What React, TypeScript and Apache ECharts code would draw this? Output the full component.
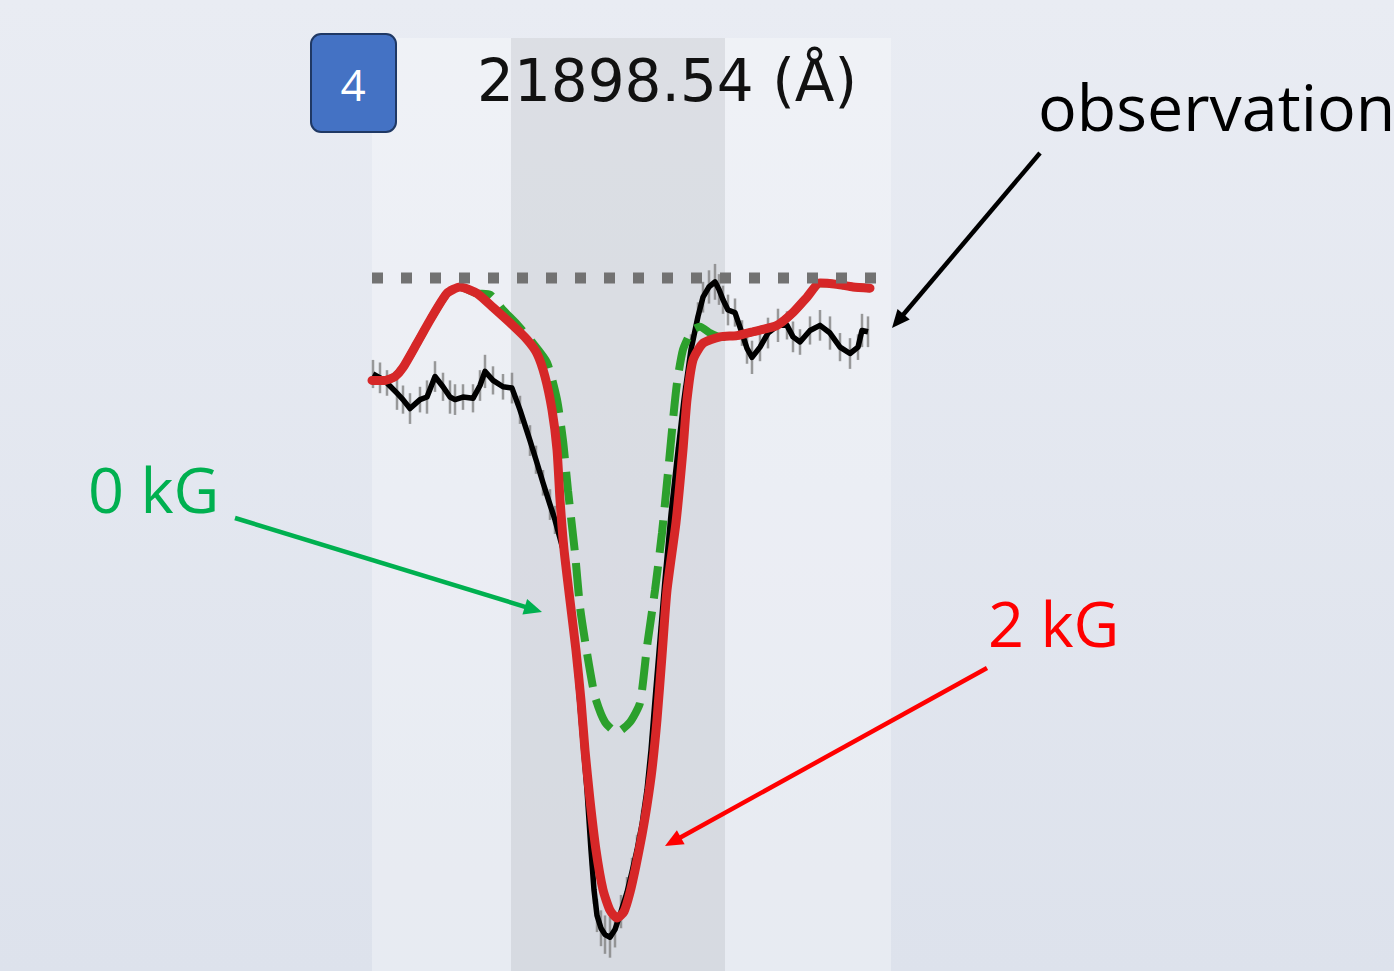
import React, { useEffect, useRef } from "react";
import * as echarts from "echarts";

// Line label and spectral window
const lineLabel = "21898.54 (Å)";
const panelIndex = "4";
const windowMin = 21896.0;
const windowMax = 21901.19;
const coreStart = 21897.39;
const coreEnd = 21899.53;
const continuumLevel = 1.0;
const continuumRange = [21896.0, 21901.1];

// Observed spectrum (normalised flux) with 1-sigma uncertainties
const obsWavelength = [
  21896.01, 21896.08, 21896.15, 21896.25, 21896.31, 21896.38, 21896.48, 21896.55, 21896.63, 21896.71,
  21896.78, 21896.83, 21896.91, 21897.01, 21897.08, 21897.13, 21897.21, 21897.31, 21897.4, 21897.48,
  21897.58, 21897.64, 21897.71, 21897.78, 21897.83, 21897.91, 21897.99, 21898.05, 21898.1, 21898.15,
  21898.19, 21898.22, 21898.25, 21898.29, 21898.33, 21898.38, 21898.43, 21898.49, 21898.55, 21898.6,
  21898.65, 21898.7, 21898.75, 21898.79, 21898.83, 21898.88, 21898.93, 21898.99, 21899.05, 21899.12,
  21899.19, 21899.26, 21899.31, 21899.37, 21899.43, 21899.47, 21899.51, 21899.56, 21899.63, 21899.7,
  21899.75, 21899.8, 21899.88, 21899.96, 21900.06, 21900.15, 21900.21, 21900.28, 21900.38, 21900.48,
  21900.58, 21900.68, 21900.78, 21900.86, 21900.9, 21900.96,
];
const obsFlux = [
  0.925, 0.922, 0.918, 0.91, 0.905, 0.898, 0.905, 0.907, 0.923, 0.915,
  0.907, 0.905, 0.907, 0.906, 0.916, 0.927, 0.92, 0.915, 0.914, 0.897,
  0.873, 0.858, 0.84, 0.823, 0.811, 0.788, 0.741, 0.694, 0.647, 0.6,
  0.553, 0.522, 0.502, 0.492, 0.487, 0.485, 0.491, 0.505, 0.52, 0.536,
  0.553, 0.573, 0.6, 0.631, 0.67, 0.717, 0.764, 0.815, 0.858, 0.905,
  0.944, 0.97, 0.985, 0.993, 0.997, 0.991, 0.983, 0.975, 0.973, 0.957,
  0.945, 0.938, 0.946, 0.957, 0.963, 0.963, 0.954, 0.95, 0.959, 0.963,
  0.957, 0.946, 0.941, 0.946, 0.959, 0.958,
];
const obsSigma = [
  0.011, 0.012, 0.01, 0.013, 0.011, 0.012, 0.01, 0.013, 0.012, 0.011,
  0.013, 0.012, 0.01, 0.011, 0.012, 0.013, 0.011, 0.01, 0.012, 0.011,
  0.012, 0.011, 0.01, 0.012, 0.011, 0.012, 0.011, 0.01, 0.012, 0.013,
  0.012, 0.011, 0.013, 0.014, 0.015, 0.016, 0.014, 0.013, 0.012, 0.011,
  0.012, 0.011, 0.01, 0.011, 0.01, 0.011, 0.01, 0.011, 0.01, 0.011,
  0.012, 0.011, 0.012, 0.013, 0.014, 0.012, 0.011, 0.012, 0.011, 0.01,
  0.012, 0.013, 0.011, 0.012, 0.013, 0.011, 0.012, 0.01, 0.011, 0.012,
  0.013, 0.011, 0.012, 0.01, 0.013, 0.012,
];

// Synthetic spectrum, 2 kG field
const model2kGWavelength = [
  21896.0, 21896.13, 21896.23, 21896.31, 21896.45, 21896.58, 21896.75, 21896.88, 21897.05, 21897.21,
  21897.38, 21897.55, 21897.65, 21897.73, 21897.8, 21897.85, 21897.88, 21897.92, 21897.98, 21898.04,
  21898.09, 21898.13, 21898.18, 21898.24, 21898.31, 21898.38, 21898.45, 21898.52, 21898.58, 21898.64,
  21898.7, 21898.75, 21898.8, 21898.85, 21898.9, 21898.95, 21899.04, 21899.11, 21899.15, 21899.21,
  21899.31, 21899.48, 21899.65, 21899.81, 21900.05, 21900.21, 21900.35, 21900.48, 21900.65, 21900.81,
  21900.98,
];
const model2kGFlux = [
  0.92, 0.92, 0.923, 0.93, 0.949, 0.967, 0.988, 0.993, 0.988, 0.977,
  0.965, 0.952, 0.941, 0.923, 0.897, 0.866, 0.827, 0.788, 0.748, 0.709,
  0.67, 0.631, 0.592, 0.553, 0.522, 0.506, 0.5, 0.505, 0.52, 0.541,
  0.565, 0.588, 0.616, 0.655, 0.705, 0.756, 0.809, 0.866, 0.905, 0.936,
  0.949, 0.954, 0.955, 0.958, 0.963, 0.973, 0.985, 0.996, 0.995, 0.993,
  0.992,
];

// Synthetic spectrum, no field
const model0kGWavelength = [
  21896.0, 21896.13, 21896.23, 21896.31, 21896.45, 21896.58, 21896.75, 21896.88, 21897.05, 21897.18,
  21897.31, 21897.46, 21897.61, 21897.75, 21897.85, 21897.91, 21897.96, 21898.03, 21898.08, 21898.15,
  21898.23, 21898.33, 21898.45, 21898.58, 21898.68, 21898.75, 21898.83, 21898.9, 21898.96, 21899.01,
  21899.05, 21899.11, 21899.2, 21899.28, 21899.38, 21899.48, 21899.65, 21899.81, 21900.05, 21900.21,
  21900.35, 21900.48, 21900.65, 21900.81, 21900.98,
];
const model0kGFlux = [
  0.92, 0.92, 0.923, 0.93, 0.949, 0.967, 0.988, 0.993, 0.988, 0.987,
  0.975, 0.963, 0.949, 0.934, 0.905, 0.873, 0.834, 0.785, 0.743, 0.707,
  0.673, 0.653, 0.645, 0.653, 0.668, 0.712, 0.756, 0.801, 0.848, 0.889,
  0.918, 0.944, 0.959, 0.962, 0.957, 0.954, 0.955, 0.958, 0.963, 0.973,
  0.985, 0.996, 0.995, 0.993, 0.992,
];

const labelObs = "observation";
const label0kG = "0 kG";
const label2kG = "2 kG";

const zip = (xs: number[], ys: number[]) => xs.map((x, i) => [x, ys[i]]);

// Straight arrow: shaft plus filled triangular head at (x2, y2)
function arrow(x1: number, y1: number, x2: number, y2: number, color: string) {
  const len = Math.hypot(x2 - x1, y2 - y1);
  const ux = (x2 - x1) / len;
  const uy = (y2 - y1) / len;
  const headLen = 18;
  const headHalf = 8;
  const bx = x2 - ux * headLen;
  const by = y2 - uy * headLen;
  return [
    {
      type: "line",
      shape: { x1, y1, x2: bx + ux * 2, y2: by + uy * 2 },
      style: { stroke: color, lineWidth: 4.5 },
      z: 20,
    },
    {
      type: "polygon",
      shape: {
        points: [
          [x2, y2],
          [bx - uy * headHalf, by + ux * headHalf],
          [bx + uy * headHalf, by - ux * headHalf],
        ],
      },
      style: { fill: color },
      z: 20,
    },
  ];
}

export default function App() {
  const ref = useRef<HTMLDivElement>(null);

  useEffect(() => {
    if (!ref.current) return;
    const chart = echarts.init(ref.current, null, { renderer: "svg" });

    const errorData = obsWavelength.map((w, i) => [w, obsFlux[i] - obsSigma[i], obsFlux[i] + obsSigma[i]]);

    chart.setOption({
      animation: false,
      backgroundColor: new echarts.graphic.LinearGradient(0, 0, 0, 1, [
        { offset: 0, color: "#e9ecf3" },
        { offset: 1, color: "#dde2ec" },
      ]),
      grid: {
        left: 372,
        top: 38,
        width: 519,
        height: 933,
        show: true,
        backgroundColor: "rgba(255,255,255,0.3)",
        borderWidth: 0,
      },
      xAxis: {
        type: "value",
        min: windowMin,
        max: windowMax,
        show: false,
      },
      yAxis: {
        type: "value",
        min: 0.45859375,
        max: 1.1875,
        show: false,
      },
      series: [
        {
          type: "custom",
          name: "errors",
          z: 2,
          data: errorData,
          encode: { x: 0, y: [1, 2] },
          renderItem: (params: any, api: any) => {
            const x = api.value(0);
            const lo = api.coord([x, api.value(1)]);
            const hi = api.coord([x, api.value(2)]);
            return {
              type: "line",
              shape: { x1: lo[0], y1: lo[1], x2: hi[0], y2: hi[1] },
              style: { stroke: "rgba(130,130,130,0.8)", lineWidth: 2.5 },
            };
          },
          markArea: {
            silent: true,
            itemStyle: { color: "rgba(165,170,178,0.26)" },
            data: [[{ xAxis: coreStart }, { xAxis: coreEnd }]],
          },
        },
        {
          type: "line",
          name: labelObs,
          z: 3,
          data: zip(obsWavelength, obsFlux),
          showSymbol: false,
          lineStyle: { color: "#000000", width: 5.5, join: "round" },
        },
        {
          type: "line",
          name: label0kG,
          z: 4,
          data: zip(model0kGWavelength, model0kGFlux),
          showSymbol: false,
          smooth: 0.2,
          lineStyle: { color: "#2ca02c", width: 8, type: [33, 13], cap: "butt" },
        },
        {
          type: "line",
          name: label2kG,
          z: 5,
          data: zip(model2kGWavelength, model2kGFlux),
          showSymbol: false,
          smooth: 0.2,
          lineStyle: { color: "#d62728", width: 9, join: "round", cap: "round" },
        },
        {
          type: "line",
          name: "continuum",
          z: 6,
          data: [
            [continuumRange[0], continuumLevel],
            [continuumRange[1], continuumLevel],
          ],
          showSymbol: false,
          lineStyle: { color: "#727272", width: 11, type: [11, 18], cap: "butt" },
        },
      ],
      graphic: [
        {
          type: "rect",
          shape: { x: 311, y: 34, width: 85, height: 98, r: 10 },
          style: { fill: "#4472c4", stroke: "#1f3864", lineWidth: 2 },
          z: 20,
        },
        {
          type: "text",
          x: 353,
          y: 84,
          style: {
            text: panelIndex,
            fill: "#ffffff",
            fontSize: 44,
            fontFamily: '"Open Sans", sans-serif',
            align: "center",
            verticalAlign: "middle",
          },
          z: 21,
        },
        {
          type: "text",
          x: 477,
          y: 81,
          style: {
            text: lineLabel,
            fill: "#111111",
            fontSize: 58,
            fontFamily: '"DejaVu Sans", sans-serif',
            align: "left",
            verticalAlign: "middle",
          },
          z: 21,
        },
        {
          type: "text",
          x: 1038,
          y: 106,
          style: {
            text: labelObs,
            fill: "#000000",
            fontSize: 64.5,
            fontFamily: '"Open Sans", sans-serif',
            align: "left",
            verticalAlign: "middle",
          },
          z: 21,
        },
        {
          type: "text",
          x: 88,
          y: 488,
          style: {
            text: label0kG,
            fill: "#00b050",
            fontSize: 63,
            fontFamily: '"Open Sans", sans-serif',
            align: "left",
            verticalAlign: "middle",
          },
          z: 21,
        },
        {
          type: "text",
          x: 988,
          y: 622,
          style: {
            text: label2kG,
            fill: "#ff0000",
            fontSize: 63,
            fontFamily: '"Open Sans", sans-serif',
            align: "left",
            verticalAlign: "middle",
          },
          z: 21,
        },
        ...arrow(1040, 153, 892, 328, "#000000"),
        ...arrow(235, 518, 542, 612, "#00b050"),
        ...arrow(987, 668, 665, 846, "#ff0000"),
      ],
    });

    return () => chart.dispose();
  }, []);

  return (
    <div
      ref={ref}
      style={{ position: "absolute", left: 0, top: 0, width: 1394, height: 971 }}
    />
  );
}
